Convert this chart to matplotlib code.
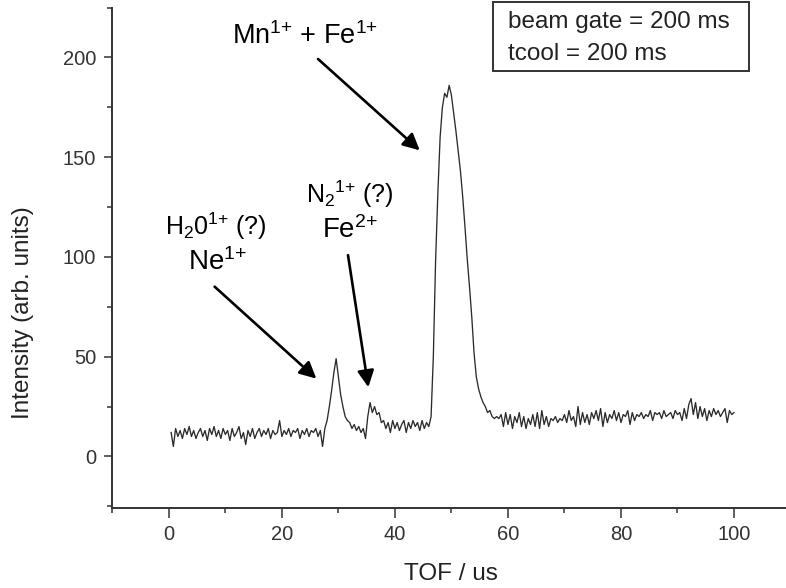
import numpy as np
import matplotlib
matplotlib.use('Agg')
import matplotlib.pyplot as plt
from matplotlib.ticker import MultipleLocator
from matplotlib.patches import Rectangle

plt.rcParams['font.family'] = ['Liberation Sans', 'DejaVu Sans']
plt.rcParams['mathtext.fontset'] = 'custom'
plt.rcParams['mathtext.rm'] = 'Liberation Sans'
plt.rcParams['mathtext.it'] = 'Liberation Sans:italic'
plt.rcParams['mathtext.default'] = 'regular'

# TOF spectrum, detector bin width 0.4 us
BIN_US = 0.4

# baseline before the first peak (starts at 0.4 us)
baseline_pre = [12, 5, 14, 10, 13, 9, 14, 11, 15, 10, 13, 9, 12, 14, 10, 13, 8,
                14, 11, 15, 10, 13, 9, 14, 11, 13, 8, 14, 10, 12, 15, 9, 12, 6,
                13, 10, 14, 9, 12, 14, 10, 13, 11, 14, 9, 13, 11, 12, 18, 10,
                13, 11, 14, 10, 13, 12, 14, 9, 13, 11, 14, 10, 13, 12, 14, 10,
                13, 5]
# H2O / Ne peak and N2 / Fe2+ bump (starts at 27.6 us)
small_peaks = [14, 18, 25, 33, 42, 49, 40, 31, 25, 20, 18, 17, 14, 16, 13, 15,
               12, 14, 9, 20, 27, 22, 25, 21, 22, 17, 18, 14]
# flat region before the main peak (starts at 38.8 us)
baseline_mid = [17, 12, 18, 14, 17, 13, 16, 18, 12, 17, 14, 18, 15, 17, 13, 18,
                14, 17, 15]
# Mn1+ + Fe1+ peak (starts at 46.4 us)
main_peak = [20, 50, 98, 132, 160, 175, 182, 180, 186, 181, 172, 163, 153, 143,
             130, 115, 99, 85, 70, 52, 40, 34, 30, 27, 25, 22, 23, 20]
# tail after the main peak (starts at 57.6 us)
baseline_post = [19, 20, 19, 21, 15, 22, 16, 21, 14, 20, 17, 22, 15, 20, 14, 19,
                 16, 21, 15, 22, 14, 23, 16, 20, 15, 19, 18, 20, 17, 19, 18, 21,
                 17, 23, 18, 20, 15, 25, 16, 22, 17, 21, 16, 22, 19, 23, 18, 24,
                 15, 22, 17, 21, 19, 23, 18, 22, 17, 21, 20, 23, 16, 22, 18, 21,
                 20, 22, 19, 21, 20, 23, 18, 22, 21, 22, 19, 23, 20, 21, 22, 19,
                 23, 21, 22, 18, 24, 19, 26, 29, 21, 27, 19, 25, 20, 24, 18, 23,
                 20, 24, 21, 23, 20, 22, 24, 17, 23, 21, 22]

segments = [(0.4, baseline_pre), (27.6, small_peaks), (38.8, baseline_mid),
            (46.4, main_peak), (57.6, baseline_post)]

tof = np.concatenate([start + BIN_US * np.arange(len(vals)) for start, vals in segments])
intensity = np.concatenate([np.asarray(vals, dtype=float) for _, vals in segments])

fig = plt.figure(figsize=(7.86, 5.88), dpi=100)
ax = fig.add_axes([0.1429, 0.1355, 0.8571, 0.8517])

ax.plot(tof, intensity, color='#2b2b2b', lw=0.95)

ax.set_xlim(-10, 109.2)
ax.set_ylim(-26, 225)

for side in ('top', 'right'):
    ax.spines[side].set_visible(False)
for side in ('left', 'bottom'):
    ax.spines[side].set_linewidth(1.4)
    ax.spines[side].set_color('#333333')

ax.xaxis.set_major_locator(MultipleLocator(20))
ax.xaxis.set_minor_locator(MultipleLocator(10))
ax.yaxis.set_major_locator(MultipleLocator(50))
ax.yaxis.set_minor_locator(MultipleLocator(25))
ax.tick_params(axis='x', which='major', length=7, width=1.1, pad=5,
               labelsize=14.5, colors='#333333')
ax.tick_params(axis='y', which='major', length=5.5, width=1.1, pad=6,
               labelsize=14.5, colors='#333333')
ax.tick_params(which='minor', length=3.5, width=1.1, color='#333333')

fig.text(29 / 786, 1 - 313 / 588, 'Intensity (arb. units)', rotation=90,
         rotation_mode='anchor', ha='center', va='baseline', fontsize=17.5,
         color='#222222')
fig.text(450.7 / 786, 8 / 588, 'TOF / us', ha='center', va='baseline',
         fontsize=17.5, color='#222222')

# peak labels; the braces around "+" keep mathtext from spacing it as an operator
ax.text(24.0, 206.9, r'Mn$^{1{+}}$ + Fe$^{1{+}}$', ha='center',
        va='baseline', fontsize=19.5)
ax.text(8.3, 110.9, r'H$_{2}$0$^{1{+}}$ (?)', ha='center',
        va='baseline', fontsize=18)
ax.text(8.7, 93.4, r'Ne$^{1{+}}$', ha='center', va='baseline', fontsize=20)
ax.text(32.0, 126.9, r'N$_{2}$$^{1{+}}$ (?)', ha='center',
        va='baseline', fontsize=18)
ax.text(32.0, 109.4, r'Fe$^{2{+}}$', ha='center', va='baseline', fontsize=20)

arrow_kw = dict(arrowstyle='-|>', lw=1.9, color='black', mutation_scale=25,
                shrinkA=0, shrinkB=0)
ax.annotate('', xy=(44.4, 153.4), xytext=(26.4, 199.2), arrowprops=arrow_kw)
ax.annotate('', xy=(26.1, 39.0), xytext=(8.1, 85.1), arrowprops=arrow_kw)
ax.annotate('', xy=(35.3, 34.7), xytext=(31.7, 100.9), arrowprops=arrow_kw)

# acquisition settings box
fig.patches.append(Rectangle((0.6276, 0.8793), 0.3257, 0.1179,
                             transform=fig.transFigure, fill=False,
                             lw=1.4, edgecolor='#333333'))
fig.text(508 / 786, 1 - 28.3 / 588, 'beam gate = 200 ms', ha='left',
         va='baseline', fontsize=17.5, color='#222222')
fig.text(508 / 786, 1 - 60 / 588, 'tcool = 200 ms', ha='left',
         va='baseline', fontsize=17.5, color='#222222')

fig.savefig('out.png', dpi=100)
